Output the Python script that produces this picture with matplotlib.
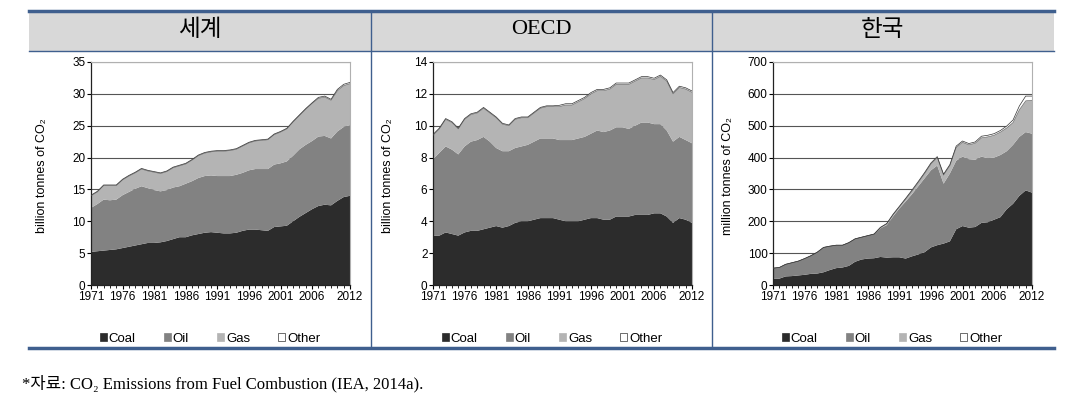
import matplotlib
matplotlib.use("Agg")
import matplotlib.pyplot as plt
from matplotlib.patches import Rectangle, Patch
from matplotlib.lines import Line2D
import numpy as np

years = np.arange(1971, 2013)
xtick_years = [1971, 1976, 1981, 1986, 1991, 1996, 2001, 2006, 2012]
fuel_labels = ['Coal', 'Oil', 'Gas', 'Other']
panel_titles = ['세계', 'OECD', '한국']
ylabels = ['billion tonnes of CO₂', 'billion tonnes of CO₂', 'million tonnes of CO₂']
ylims = [35, 14, 700]
ysteps = [5, 2, 100]

# 세계 (billion tonnes)
world_coal = [5.2, 5.3, 5.4, 5.5, 5.6, 5.8, 6.0, 6.2, 6.4, 6.6, 6.6, 6.7, 6.9, 7.2, 7.5, 7.5, 7.8, 8.0, 8.2, 8.3, 8.2,
              8.1, 8.1, 8.2, 8.5, 8.7, 8.7, 8.6, 8.5, 9.1, 9.2, 9.3, 10.0, 10.7, 11.3, 11.9, 12.4, 12.6, 12.5, 13.2, 13.8, 14.0]
world_oil = [6.9, 7.4, 8.0, 7.8, 7.8, 8.3, 8.6, 8.9, 9.1, 8.6, 8.3, 8.0, 8.0, 8.1, 8.0, 8.4, 8.5, 8.8, 8.9, 8.9, 8.9,
             9.0, 9.0, 9.1, 9.1, 9.3, 9.5, 9.6, 9.7, 9.8, 9.9, 10.1, 10.3, 10.6, 10.7, 10.7, 10.9, 10.8, 10.5, 10.9, 11.0, 11.1]
world_gas = [1.9, 1.9, 2.2, 2.3, 2.2, 2.4, 2.5, 2.5, 2.7, 2.7, 2.8, 2.8, 2.9, 3.1, 3.2, 3.1, 3.3, 3.5, 3.6, 3.7, 3.9,
             3.9, 4.0, 4.0, 4.2, 4.3, 4.4, 4.5, 4.6, 4.7, 4.9, 5.1, 5.3, 5.3, 5.6, 5.9, 6.0, 6.1, 6.0, 6.4, 6.5, 6.5]
world_other = [0.1] * 30 + [0.1, 0.1, 0.1, 0.1, 0.1, 0.1, 0.15, 0.15, 0.15, 0.2, 0.2, 0.2]

# OECD (billion tonnes)
oecd_coal = [3.1, 3.1, 3.3, 3.2, 3.1, 3.3, 3.4, 3.4, 3.5, 3.6, 3.7, 3.6, 3.7, 3.9, 4.0, 4.0, 4.1, 4.2, 4.2, 4.2, 4.1,
             4.0, 4.0, 4.0, 4.1, 4.2, 4.2, 4.1, 4.1, 4.3, 4.3, 4.3, 4.4, 4.4, 4.4, 4.5, 4.5, 4.3, 3.9, 4.2, 4.1, 3.9]
oecd_oil = [4.8, 5.2, 5.4, 5.3, 5.1, 5.4, 5.6, 5.7, 5.8, 5.4, 4.9, 4.8, 4.7, 4.7, 4.7, 4.8, 4.9, 5.0, 5.0, 5.0, 5.0,
            5.1, 5.1, 5.2, 5.2, 5.3, 5.5, 5.5, 5.6, 5.6, 5.6, 5.5, 5.6, 5.8, 5.8, 5.6, 5.6, 5.4, 5.1, 5.1, 5.0, 5.0]
oecd_gas = [1.5, 1.5, 1.7, 1.7, 1.6, 1.7, 1.7, 1.7, 1.8, 1.8, 1.9, 1.7, 1.6, 1.8, 1.8, 1.7, 1.8, 1.9, 2.0, 2.0, 2.1,
            2.2, 2.2, 2.3, 2.4, 2.5, 2.5, 2.6, 2.6, 2.7, 2.7, 2.8, 2.8, 2.8, 2.8, 2.8, 3.0, 3.1, 3.0, 3.1, 3.2, 3.2]
oecd_other = [0.05] * 20 + [0.08] * 22

# 한국 (million tonnes)
korea_coal = [20, 20, 27, 28, 30, 32, 35, 36, 40, 47, 53, 55, 60, 73, 80, 83, 84, 88, 86, 87, 87,
              83, 90, 96, 103, 118, 125, 130, 137, 175, 185, 180, 182, 195, 197, 205, 213, 238, 255, 280, 297, 290]
korea_oil = [33, 35, 38, 42, 45, 51, 57, 67, 78, 75, 72, 70, 73, 72, 70, 72, 76, 90, 102, 128, 153,
             179, 195, 214, 232, 242, 250, 188, 213, 215, 218, 215, 211, 208, 201, 195, 195, 182, 185, 185, 183, 185]
korea_gas = [0, 0, 0, 0, 0, 0, 0, 0, 0, 0, 0, 0, 0, 0, 0, 0, 0, 2, 4, 5, 5,
             8, 10, 12, 15, 20, 25, 27, 25, 42, 45, 45, 52, 59, 67, 70, 72, 73, 70, 85, 98, 105]
korea_other = [0] * 17 + [1, 1, 2, 2, 2, 3, 3, 3, 3, 3, 3, 3, 4, 4, 4, 4, 5, 5, 5, 5, 6, 8, 12, 15, 13]

panels = [
    (world_coal, world_oil, world_gas, world_other),
    (oecd_coal, oecd_oil, oecd_gas, oecd_other),
    (korea_coal, korea_oil, korea_gas, korea_other),
]

colors = ['#2c2c2c', '#828282', '#b4b4b4', '#ffffff']
blue = '#3f5f8e'
sans = ['Liberation Sans Narrow', 'Liberation Sans', 'DejaVu Sans']

W, H = 1076, 411
fig = plt.figure(figsize=(W / 100, H / 100), dpi=100)

def fx(px):
    return px / W

def fy(py):
    return 1 - py / H

# header band and table lines
fig.patches.append(Rectangle((fx(29), fy(51)), fx(1054) - fx(29), fy(11) - fy(51),
                             transform=fig.transFigure, facecolor='#d8d8d8', edgecolor='none', zorder=0))
fig.add_artist(Line2D([fx(29), fx(1054)], [fy(11), fy(11)], color=blue, lw=2.5))
fig.add_artist(Line2D([fx(29), fx(1054)], [fy(51), fy(51)], color=blue, lw=1.0))
fig.add_artist(Line2D([fx(29), fx(1054)], [fy(348), fy(348)], color=blue, lw=2.5))
for xd in [371, 712]:
    fig.add_artist(Line2D([fx(xd), fx(xd)], [fy(11), fy(348)], color=blue, lw=1.0))

cell_centers = [200, 541, 883]
axes_left = [91, 433, 773]
axes_width = 259
ylabel_x = [42, 388, 728]
legend_x = [93, 435, 775]

for i, (coal, oil, gas, other) in enumerate(panels):
    ax = fig.add_axes([fx(axes_left[i]), fy(285), fx(axes_width), fy(62) - fy(285)])
    ax.set_axisbelow(True)
    ax.yaxis.grid(True, color='#555555', lw=0.8)
    ax.stackplot(years, coal, oil, gas, other, colors=colors, lw=0, zorder=2)
    gas_top = np.array(coal) + np.array(oil) + np.array(gas)
    total = gas_top + np.array(other)
    ax.plot(years, gas_top, color='#555555', lw=0.4, zorder=3)
    ax.plot(years, total, color='#333333', lw=0.5, zorder=3)

    ax.set_xlim(1971, 2012)
    ax.set_ylim(0, ylims[i])
    ax.set_yticks(np.arange(0, ylims[i] + ysteps[i] / 2, ysteps[i]))
    ax.set_xticks(xtick_years)
    ax.set_xticks(years, minor=True)
    ax.tick_params(axis='both', labelsize=8.5, length=3, width=0.8, direction='out', pad=1)
    ax.tick_params(axis='x', which='minor', length=2, width=0.6)
    for lab in ax.get_xticklabels() + ax.get_yticklabels():
        lab.set_family(sans)
    for s in ['top', 'right']:
        ax.spines[s].set_color('#b0b0b0')
        ax.spines[s].set_linewidth(0.8)
    for s in ['left', 'bottom']:
        ax.spines[s].set_color('#222222')
        ax.spines[s].set_linewidth(0.9)

    fig.text(fx(ylabel_x[i]), fy(176), ylabels[i], rotation=90, ha='center', va='center',
             fontsize=9, family=['Liberation Sans', 'DejaVu Sans'])

    # title in header
    if panel_titles[i] == 'OECD':
        fam = ['Liberation Serif']
        size = 16
    else:
        fam = ['Noto Sans CJK KR']
        size = 17
    fig.text(fx(cell_centers[i]), fy(30), panel_titles[i], ha='center', va='center',
             fontsize=size, family=fam)

    handles = [Patch(facecolor=c, edgecolor='#333333' if c == '#ffffff' else c, lw=0.5) for c in colors]
    fig.legend(handles, fuel_labels, loc='center left', bbox_to_anchor=(fx(legend_x[i]), fy(339)),
               ncol=4, frameon=False, handlelength=0.55, handleheight=0.55, handletextpad=0.15,
               columnspacing=2.1, borderpad=0, prop={'family': sans, 'size': 9.5})

fig.text(fx(22), fy(384), '*자료: CO₂ Emissions from Fuel Combustion (IEA, 2014a).', ha='left', va='center',
         fontsize=12, family=['Liberation Serif', 'Noto Sans CJK KR', 'DejaVu Serif'])

fig.savefig('out.png', dpi=100)
